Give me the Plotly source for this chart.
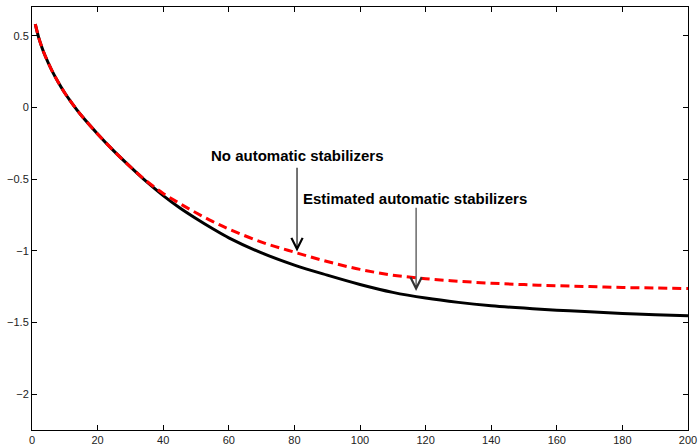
import plotly.graph_objects as go

# Horizon (periods)
horizon = [1, 2, 3, 4, 6, 8, 10, 12, 15, 20, 25, 30, 35, 40, 45, 50, 55, 60, 70, 80,
           90, 100, 110, 120, 130, 140, 150, 160, 170, 180, 190, 200]

# Response with estimated automatic stabilizers
with_stabilizers = [0.58, 0.49, 0.42, 0.36, 0.26, 0.175, 0.10, 0.035, -0.055, -0.185,
                    -0.305, -0.415, -0.52, -0.615, -0.70, -0.775, -0.845, -0.91,
                    -1.015, -1.10, -1.17, -1.235, -1.29, -1.33, -1.36, -1.383, -1.40,
                    -1.414, -1.426, -1.437, -1.446, -1.454]

# Response without automatic stabilizers
no_stabilizers = [0.58, 0.49, 0.42, 0.36, 0.26, 0.175, 0.10, 0.035, -0.055, -0.185,
                  -0.305, -0.415, -0.515, -0.60, -0.67, -0.735, -0.795, -0.848,
                  -0.94, -1.01, -1.075, -1.13, -1.17, -1.195, -1.213, -1.226, -1.236,
                  -1.244, -1.25, -1.256, -1.26, -1.264]

x_ticks = [0, 20, 40, 60, 80, 100, 120, 140, 160, 180, 200]
y_ticks = [-2, -1.5, -1, -0.5, 0, 0.5]
y_tick_text = ["\u22122", "\u22121.5", "\u22121", "\u22120.5", "0", "0.5"]

fig = go.Figure()
fig.add_trace(go.Scatter(x=horizon, y=with_stabilizers, mode="lines",
                         line=dict(color="black", width=3, shape="spline"),
                         showlegend=False))
fig.add_trace(go.Scatter(x=horizon, y=no_stabilizers, mode="lines",
                         line=dict(color="#ff0000", width=3, dash="9px,5px", shape="spline"),
                         showlegend=False))

label_font = dict(family="Liberation Sans, Arial, sans-serif", size=15, color="black")

fig.add_annotation(x=80.8, y=-0.337, text="<b>No automatic stabilizers</b>",
                   showarrow=False, font=label_font, xanchor="center", yanchor="middle")
fig.add_annotation(x=116.9, y=-0.632, text="<b>Estimated automatic stabilizers</b>",
                   showarrow=False, font=label_font, xanchor="center", yanchor="middle")

fig.add_annotation(x=80.8, y=-1.005, ax=80.8, ay=-0.41, axref="x", ayref="y",
                   text="", showarrow=True, arrowhead=5, arrowsize=2.0,
                   arrowwidth=1.1, arrowcolor="black")
fig.add_annotation(x=117.1, y=-1.28, ax=117.1, ay=-0.69, axref="x", ayref="y",
                   text="", showarrow=True, arrowhead=5, arrowsize=2.0,
                   arrowwidth=1.1, arrowcolor="#333333")

axis_common = dict(showgrid=False, zeroline=False, showline=True, linecolor="black",
                   linewidth=1, mirror="ticks", ticks="inside", ticklen=5,
                   tickcolor="black", tickwidth=1, automargin=False,
                   tickfont=dict(family="Liberation Sans, Arial, sans-serif",
                                 size=11, color="#222222"))

fig.update_xaxes(range=[0, 200], tickvals=x_ticks, **axis_common)
fig.update_yaxes(range=[-2.25, 0.7], tickvals=y_ticks, ticktext=y_tick_text,
                 **axis_common)

fig.update_layout(width=698, height=446, plot_bgcolor="white", paper_bgcolor="white",
                  margin=dict(l=32, r=10, t=7, b=16))

fig.write_html("out.html")
